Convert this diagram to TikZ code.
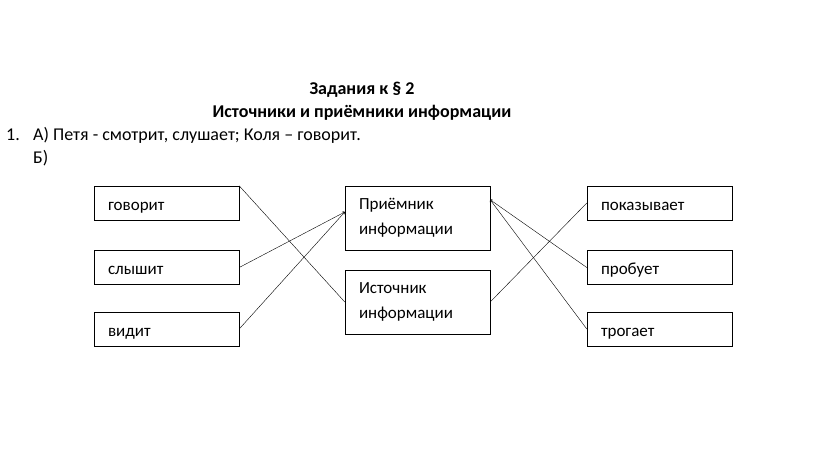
\documentclass[tikz,border=0pt]{standalone}
\usepackage{fontspec}
\setmainfont{Carlito}
\usetikzlibrary{positioning}

\tikzset{
    cell/.style={draw, thin, text width=117pt, inner xsep=14pt, inner ysep=0pt, align=left, font=\fontsize{17}{25}\selectfont},
    box/.style={cell, minimum height=34pt, text height=17pt, text depth=3pt},
    bigbox/.style={cell, minimum height=64pt, text height=13pt, text depth=31pt},
    head/.style={font=\bfseries\fontsize{18}{21}\selectfont, inner sep=0pt},
    line/.style={anchor=west, inner sep=0pt, font=\fontsize{18}{21}\selectfont},
    link/.style={thin},
    arr/.style={thin, ->}
}

\begin{document}
\begin{tikzpicture}[x=1pt, y=-1pt]
    \useasboundingbox (0,0) rectangle (823,456);

    \node[head] (title) at (362,90) {Задания к § 2};
    \node[head] (subtitle) at (362,113) {Источники и приёмники информации};
    \node[line] (num) at (6,135) {1.};
    \node[line] (parta) at (33,135) {А) Петя - смотрит, слушает; Коля – говорит.};
    \node[line] (partb) at (33,158) {Б)};

    \node[box] (speak) at (166.5,203) {говорит};
    \node[box] (hear) at (166.5,267.5) {слышит};
    \node[box] (see) at (166.5,329) {видит};

    \node[bigbox] (recv) at (417.5,218) {Приёмник\\информации};
    \node[bigbox] (src) at (417.5,302) {Источник\\информации};

    \node[box] (show) at (659.5,203) {показывает};
    \node[box] (taste) at (659.5,267.5) {пробует};
    \node[box] (touch) at (659.5,329) {трогает};

    \coordinate (recvin) at ([yshift=6pt]recv.west);
    \coordinate (recvtop) at ([yshift=-14pt]recv.north east);

    \draw[link] (speak.north east) -- (src.west);
    \draw[arr] (hear.east) -- (recvin);
    \draw[arr] (see.east) -- (recvin);
    \draw[link] (src.east) -- (show.west);
    \draw[arr] (taste.west) -- (recvtop);
    \draw[arr] (touch.west) -- (recvtop);
\end{tikzpicture}
\end{document}
